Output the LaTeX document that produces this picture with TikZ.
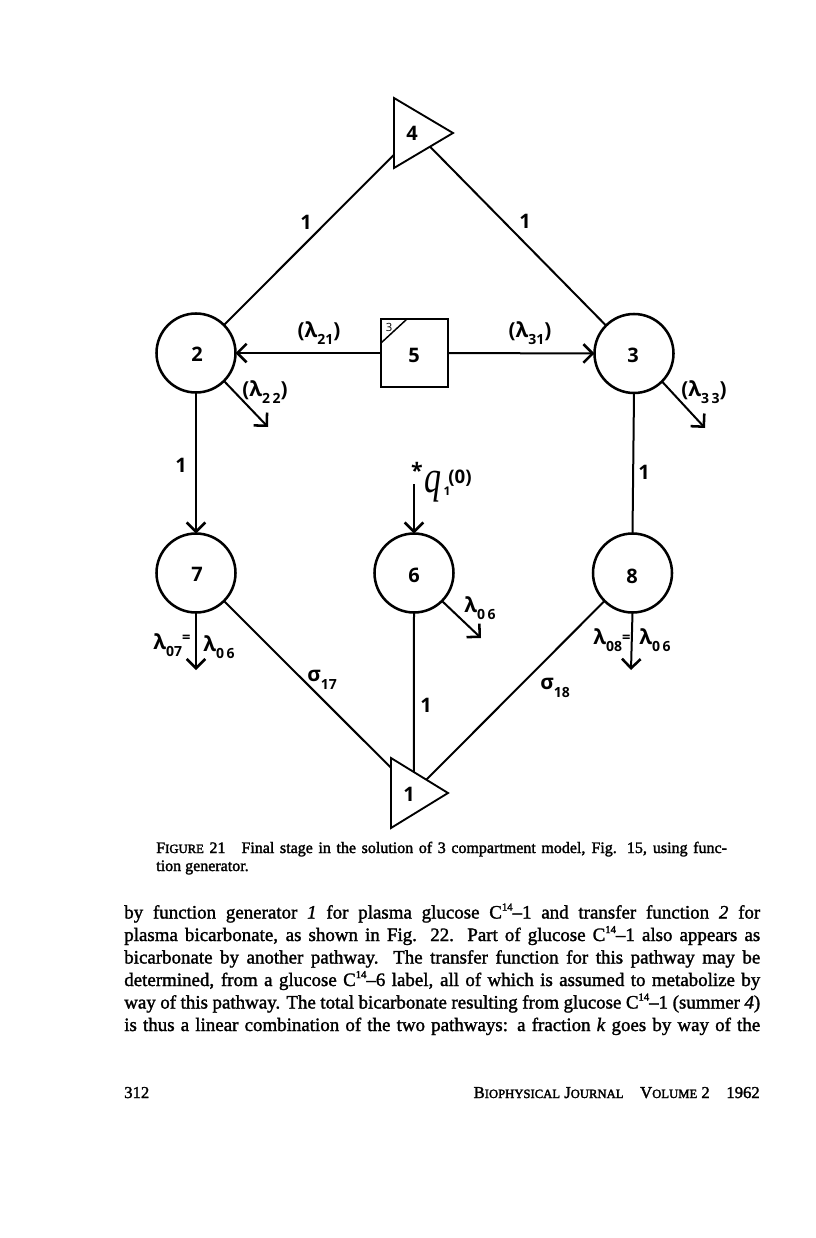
\documentclass[tikz,border=0pt]{standalone}
\usepackage{fontspec}
\setmainfont{Liberation Serif}
\newfontfamily\handfont{Open Sans}
\newfontfamily\qfont{Liberation Serif}
\usetikzlibrary{arrows.meta,calc,shapes.geometric}
% slightly heavier printed ink for the page text
\newcommand{\inkon}{\special{pdf:code 2 Tr 0.22 w}}
\tikzset{
  x=0.75pt,y=-0.75pt,
  comp/.style={draw,circle,line width=1.9pt,minimum size=59.25pt,inner sep=0pt,outer sep=0pt},
  summer/.style={draw,isosceles triangle,isosceles triangle stretches,shape border rotate=0,
    minimum width=52.5pt,minimum height=44.25pt,line width=1.4pt,inner sep=0pt,outer sep=0pt,anchor=apex},
  gen/.style={draw,rectangle,line width=1.4pt,minimum width=50.25pt,minimum height=51pt,inner sep=0pt,outer sep=0pt},
  link/.style={line width=1.5pt},
  flow/.style={line width=1.5pt,-{Straight Barb[length=7pt,width=14pt,line width=1.9pt]}},
  digit/.style={font=\handfont\fontsize{15}{15}\selectfont\bfseries,inner sep=0pt},
  gain/.style={font=\handfont\fontsize{15}{15}\selectfont\bfseries,inner sep=0pt},
  rate/.style={font=\handfont\fontsize{15.5}{15.5}\selectfont\bfseries,inner sep=0pt},
  pageline/.style={anchor=base west,inner sep=0pt,font=\fontsize{14.2}{17}\selectfont\inkon},
  capline/.style={anchor=base west,inner sep=0pt,font=\fontsize{12}{13.5}\selectfont\inkon},
}
\newcommand{\lsub}[1]{\raisebox{-0.36em}{\fontsize{10.5}{10.5}\selectfont #1}}
\newcommand{\wsub}[1]{\raisebox{-0.36em}{\fontsize{10.5}{10.5}\selectfont\addfontfeature{LetterSpace=18}#1}}
\newcommand{\lamsub}[1]{λ\lsub{#1}}
\newcommand{\lamwide}[1]{λ\wsub{#1}}
\newcommand{\capsc}[2]{#1{\fontsize{9.5}{9.5}\selectfont #2}}
\newcommand{\cf}{C\raisebox{.42em}{\fontsize{8}{8}\selectfont 14}–}
\begin{document}
\begin{tikzpicture}
\useasboundingbox (0,0) rectangle (816,1238);
\fill[white] (0,0) rectangle (816,1238);

% compartments
\node[comp] (n2) at (196,353) {};
\node[comp] (n3) at (634,353.5) {};
\node[comp] (n7) at (196,573) {};
\node[comp] (n6) at (414,573) {};
\node[comp] (n8) at (632.5,573) {};
\node[gen] (n5) at (414.5,353) {};
\node[summer] (n4) at (453,133) {};
\node[summer,minimum height=42.75pt] (n1) at (448,793) {};

% corner of the generator box
\coordinate (cA) at ($(n5.north west)+(0,24)$);
\coordinate (cB) at ($(n5.north west)+(26,0)$);
\draw[line width=1.1pt] (cA) -- (cB);

% entry points on the summers
\coordinate (n4w) at ($(n4.left corner)!0.81!(n4.right corner)$);
\coordinate (n4s) at ($(n4.apex)!0.39!(n4.right corner)$);
\coordinate (n1n) at ($(n1.apex)!0.60!(n1.left corner)$);
\coordinate (n1e) at ($(n1.apex)!0.38!(n1.left corner)$);
\coordinate (n1w) at ($(n1.left corner)!0.14!(n1.right corner)$);

% free ends of the loss arrows
\coordinate (e2) at (268,427);
\coordinate (e3) at (705,428);
\coordinate (e6) at (481,638);
\coordinate (e7) at (196,670);
\coordinate (e8) at (631,670);
\coordinate (s6) at (414,484);

% connectors
\draw[link] (n2.45) -- (n4w);
\draw[link] (n4s) -- (n3.135);
\draw[flow] (n5.west) -- (n2.east);
\draw[flow] (n5.east) -- (n3.west);
\draw[flow] (n2.south) -- (n7.north);
\draw[link] (n3.south) -- (n8.north);
\draw[flow] (s6) -- (n6.north);
\draw[link] (n6.south) -- (n1n);
\draw[link] (n7.-45) -- (n1w);
\draw[link] (n8.-135) -- (n1e);
\draw[flow] (n2.-45) -- (e2);
\draw[flow] (n3.-45) -- (e3);
\draw[flow] (n6.-45) -- (e6);
\draw[flow] (n7.south) -- (e7);
\draw[flow] (n8.south) -- (e8);

% compartment numbers
\node[digit] (d2) at (197,354) {2};
\node[digit] (d3) at (633,355) {3};
\node[digit] (d5) at (414,355) {5};
\node[digit] (d7) at (197,574) {7};
\node[digit] (d6) at (414,575) {6};
\node[digit] (d8) at (632,576) {8};
\node[digit] (d4) at (412,133) {4};
\node[digit] (d1) at (409,794) {1};
\node[inner sep=0pt,font=\handfont\fontsize{8.5}{8.5}\selectfont] (d3c) at (389,327) {3};

% gains
\node[gain] (g24) at (306,222) {1};
\node[gain] (g43) at (525,221) {1};
\node[gain] (g27) at (181,465) {1};
\node[gain] (g38) at (644,472) {1};
\node[gain] (g61) at (426,705) {1};

% transfer rates
\node[rate] (l21) at (319,333) {(\lamsub{21})};
\node[rate] (l31) at (530,333) {(\lamsub{31})};
\node[rate] (l22) at (265,392) {(\lamwide{22})};
\node[rate] (l33) at (704,392) {(\lamwide{33})};
\node[rate] (l07) at (172,645) {\lamsub{07}\raisebox{.3em}{\fontsize{11}{11}\selectfont =}};
\node[rate] (l06a) at (219,647) {\lamwide{06}};
\node[rate] (l06b) at (480,608) {\lamwide{06}};
\node[rate] (l08) at (612,640) {\lamsub{08}\raisebox{.1em}{\fontsize{11}{11}\selectfont =}};
\node[rate] (l06c) at (655,640) {\lamwide{06}};
\node[rate] (s17) at (322,680) {σ\lsub{17}};
\node[rate] (s18) at (555,688) {σ\lsub{18}};

% initial condition
\node[inner sep=0pt,font=\handfont\fontsize{16}{16}\selectfont\bfseries] (ast) at (417,470) {*};
\node[inner sep=0pt,font=\qfont\fontsize{34}{34}\selectfont\itshape] (qq) at (433,487) {\scalebox{.75}[1]{q}};
\node[inner sep=0pt,font=\handfont\fontsize{9}{9}\selectfont\bfseries] (qs) at (447,491) {1};
\node[inner sep=0pt,font=\handfont\fontsize{14}{14}\selectfont\bfseries] (q0) at (460,478) {(0)};

% caption
\node[capline] (c1) at (156,853) {\makebox[428pt][s]{\capsc{F}{IGURE} 21\quad Final stage in the solution of 3 compartment model, Fig. 15, using func-}};
\node[capline] (c2) at (156,871) {tion generator.};

% running text
\node[pageline] (p1) at (124,918.5) {\makebox[477pt][s]{by function generator \textit{1} for plasma glucose \cf 1 and transfer function \textit{2} for}};
\node[pageline] (p2) at (124,941) {\makebox[477pt][s]{plasma bicarbonate, as shown in Fig. 22. Part of glucose \cf 1 also appears as}};
\node[pageline] (p3) at (124,963.5) {\makebox[477pt][s]{bicarbonate by another pathway. The transfer function for this pathway may be}};
\node[pageline] (p4) at (124,986) {\makebox[477pt][s]{determined, from a glucose \cf 6 label, all of which is assumed to metabolize by}};
\node[pageline] (p5) at (124,1008.5) {\makebox[477pt][s]{way of this pathway. The total bicarbonate resulting from glucose \cf 1 (summer \textit{4})}};
\node[pageline] (p6) at (124,1031) {\makebox[477pt][s]{is thus a linear combination of the two pathways: a fraction \textit{k} goes by way of the}};

% running foot
\node[capline,font=\fontsize{12.5}{13}\selectfont\inkon] (f1) at (124,1098) {312};
\node[capline,anchor=base east,font=\fontsize{12.5}{13}\selectfont\inkon] (f2) at (760,1098) {\capsc{B}{IOPHYSICAL} \capsc{J}{OURNAL}\quad \capsc{V}{OLUME} 2\quad 1962};
\end{tikzpicture}
\end{document}
